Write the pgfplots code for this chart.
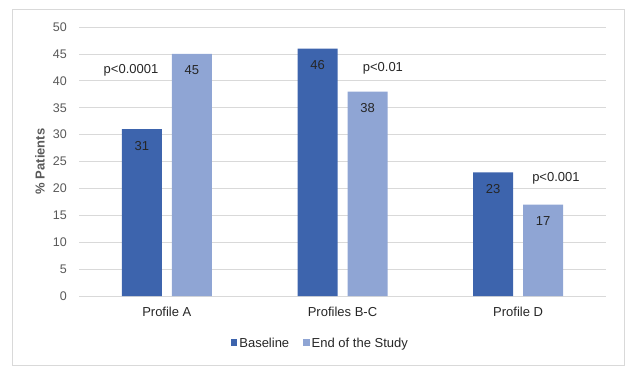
\documentclass[border=0pt]{standalone}
\usepackage{pgfplots}
\pgfplotsset{compat=1.18}
\usepackage{fontspec}
\setmainfont{Liberation Sans}
\definecolor{base}{RGB}{61,100,173}
\definecolor{eos}{RGB}{143,165,212}
\definecolor{gridc}{RGB}{217,217,217}
\definecolor{txt}{RGB}{89,89,89}
\definecolor{dtxt}{RGB}{38,38,38}
\begin{document}
\begin{tikzpicture}[font=\fontsize{13}{15}\selectfont]
\path (-79pt,-79pt) rectangle (557pt,296pt);
\draw[gridc, line width=0.75pt] (-67pt,-69pt) rectangle (545pt,287pt);
\begin{axis}[
  at={(0pt,0pt)}, anchor=south west,
  scale only axis, width=527pt, height=269pt,
  ymin=0, ymax=50, ytick={0,5,...,50},
  xmin=-0.5, xmax=2.5, xtick={0,1,2},
  xticklabels={Profile A, Profiles B-C, Profile D},
  ybar=10pt, bar width=40pt,
  axis lines*=left,
  y axis line style={draw=none},
  x axis line style={gridc, line width=0.75pt, -},
  major tick length=0pt,
  ymajorgrids, grid style={gridc, line width=0.75pt},
  /pgf/number format/assume math mode=true,
  yticklabel style={font=\fontsize{12.5}{14}\selectfont, text=txt, anchor=east, inner sep=0pt, xshift=-12pt},
  xticklabel style={font=\fontsize{13}{15}\selectfont, text=dtxt, anchor=base, yshift=-20pt},
  ylabel={\% Patients},
  ylabel style={font=\bfseries\fontsize{13}{15}\selectfont, text=txt, at={(axis description cs:-0.074,0.5)}, anchor=center, rotate=0},
  nodes near coords,
  nodes near coords style={font=\fontsize{13}{15}\selectfont, text=dtxt, anchor=base, yshift=-21pt},
  legend style={at={(axis description cs:0.458,-0.178)}, anchor=center, draw=none, fill=none,
    legend columns=2, font=\fontsize{13}{15}\selectfont, text=dtxt,
    /tikz/every even column/.append style={column sep=12pt}},
  legend image code/.code={\fill[#1] (-1pt,-2.5pt) rectangle (5.5pt,4.5pt);},
  clip=false,
]
\addplot[fill=base, draw=none] coordinates {(0,31) (1,46) (2,23)};
\addplot[fill=eos, draw=none] coordinates {(0,45) (1,38) (2,17)};
\legend{Baseline, End of the Study}
\node[anchor=base, text=dtxt] at (axis cs:-0.204,41.3) {p<0.0001};
\node[anchor=base, text=dtxt] at (axis cs:1.230,41.8) {p<0.01};
\node[anchor=base, text=dtxt] at (axis cs:2.215,21.2) {p<0.001};
\end{axis}
\end{tikzpicture}
\end{document}
